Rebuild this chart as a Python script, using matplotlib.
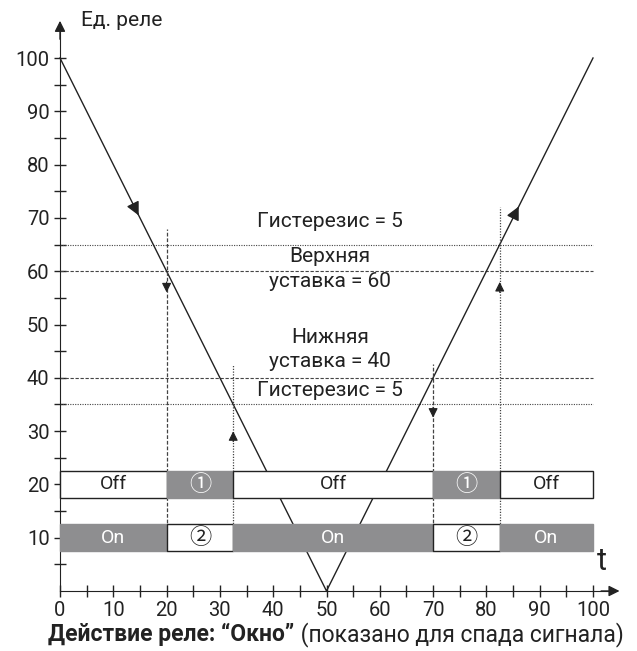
# Relay window diagram (Окно)
import matplotlib.pyplot as plt
import numpy as np

plt.rcParams['font.family'] = ['Roboto', 'DejaVu Sans', 'Noto Sans CJK SC']

# signal (V-shape) and relay settings
signal_t = [0, 50, 100]
signal_v = [100, 0, 100]
upper_set = 60
lower_set = 40
hyst = 5

# switching moments, read from crossings of the signal
t_switch = [20, 32.5, 70, 82.5]

# relay state rows: labels per segment, shaded per segment
seg_edges = [0, 20, 32.5, 70, 82.5, 100]
off_row_y = 20
on_row_y = 10
off_labels = ['Off', '①', 'Off', '①', 'Off']
off_shade = [False, True, False, True, False]
on_labels = ['On', '②', 'On', '②', 'On']
on_shade = [True, False, True, False, True]

gray = '#8e8e90'
ink = '#222222'

fig = plt.figure(figsize=(6.37, 6.51), dpi=100)
ax = fig.add_axes([0, 0, 1, 1])
px = 5.33
ax.set_xlim(-60 / px, (637 - 60) / px)
ax.set_ylim(-(651 - 591) / px, 591 / px)

for s in ['top', 'right']:
    ax.spines[s].set_visible(False)
ax.spines['left'].set_position(('data', 0))
ax.spines['bottom'].set_position(('data', 0))
ax.spines['left'].set_bounds(0, 105)
ax.spines['bottom'].set_bounds(0, 104)
ax.spines['left'].set_color(ink)
ax.spines['bottom'].set_color(ink)
ax.annotate('', xy=(0, 107.5), xytext=(0, 103),
            arrowprops=dict(arrowstyle='-|>', color=ink, lw=1, mutation_scale=16))
ax.annotate('', xy=(105.5, 0), xytext=(101, 0),
            arrowprops=dict(arrowstyle='-|>', color=ink, lw=1, mutation_scale=16))

ax.set_xticks(np.arange(0, 101, 10))
ax.set_xticks(np.arange(0, 101, 5), minor=True)
ax.set_yticks(np.arange(10, 101, 10))
ax.set_yticks(np.arange(5, 101, 5), minor=True)
ax.tick_params(which='both', direction='inout', length=9, width=1, color=ink,
               labelsize=14.5, labelcolor=ink)
ax.tick_params(axis='y', pad=3)
ax.tick_params(axis='x', pad=3)

ax.text(4.0, 107.0, 'Ед. реле', fontsize=15, color=ink, va='center')
ax.text(101.6, 5.6, 't', fontsize=22, color=ink, va='center', ha='center')

# threshold lines
for lvl, ls in [(upper_set + hyst, ':'), (upper_set, '--'),
                (lower_set, '--'), (lower_set - hyst, ':')]:
    ax.plot([0, 100], [lvl, lvl], color='#444444', lw=0.8,
            dashes=(3, 1.5) if ls == '--' else (1, 1.2))

# signal
ax.plot(signal_t, signal_v, color=ink, lw=1)
for tip, back in [((15, 70), (13.5, 73)), ((86.3, 72.6), (84.8, 69.6))]:
    ax.annotate('', xy=tip, xytext=back,
                arrowprops=dict(arrowstyle='-|>', color=ink, lw=1, mutation_scale=20))

# state bars
def draw_row(yc, labels, shade):
    for i, lab in enumerate(labels):
        x0, x1 = seg_edges[i], seg_edges[i + 1]
        fc = gray if shade[i] else 'white'
        ec = gray if shade[i] else ink
        ax.add_patch(plt.Rectangle((x0, yc - 2.5), x1 - x0, 5, fc=fc, ec=ec,
                                   lw=1, zorder=3))
        if lab in ('①', '②'):
            ax.text((x0 + x1) / 2, yc, lab, ha='center', va='center',
                    fontsize=16, family=['Noto Sans CJK JP', 'DejaVu Sans'],
                    color='white' if shade[i] else ink, zorder=4)
        else:
            ax.text((x0 + x1) / 2, yc, lab, ha='center', va='center',
                    fontsize=14, color='white' if shade[i] else ink, zorder=4)

draw_row(off_row_y, off_labels, off_shade)
draw_row(on_row_y, on_labels, on_shade)

# vertical switching lines: (t, top, style, arrow tip y, arrow direction)
vlines = [
    (t_switch[0], 68, '--', 55.5, -1),
    (t_switch[1], 42.5, ':', 30.5, 1),
    (t_switch[2], 42.5, '--', 32, -1),
    (t_switch[3], 72, ':', 58.5, 1),
]
for t, top, ls, ay, d in vlines:
    ax.plot([t, t], [7.5, top], color='#444444', lw=0.9, zorder=2,
            dashes=(3, 1.5) if ls == '--' else (1, 1.2))
    ax.annotate('', xy=(t, ay), xytext=(t, ay - 3 * d),
                arrowprops=dict(arrowstyle='-|>', color=ink, lw=0.8,
                                mutation_scale=14))

# labels for settings
xc = 50.6
fs_lab = 15
ax.text(xc, 69.3, 'Гистерезис = 5', ha='center', va='center', fontsize=fs_lab, color=ink)
ax.text(xc, 62.7, 'Верхняя', ha='center', va='center', fontsize=fs_lab, color=ink)
ax.text(xc, 58.0, 'уставка = 60', ha='center', va='center', fontsize=fs_lab, color=ink)
ax.text(xc, 47.6, 'Нижняя', ha='center', va='center', fontsize=fs_lab, color=ink)
ax.text(xc, 43.0, 'уставка = 40', ha='center', va='center', fontsize=fs_lab, color=ink)
ax.text(xc, 37.6, 'Гистерезис = 5', ha='center', va='center', fontsize=fs_lab, color=ink)

# caption
ax.text(44.0, -8.2, 'Действие реле: “Окно”', ha='right', va='center',
        fontsize=16.5, fontweight='bold', color=ink)
ax.text(44.0, -8.2, ' (показано для спада сигнала)', ha='left', va='center',
        fontsize=16.5, color=ink)

fig.savefig('out.png', dpi=100, facecolor='white')
